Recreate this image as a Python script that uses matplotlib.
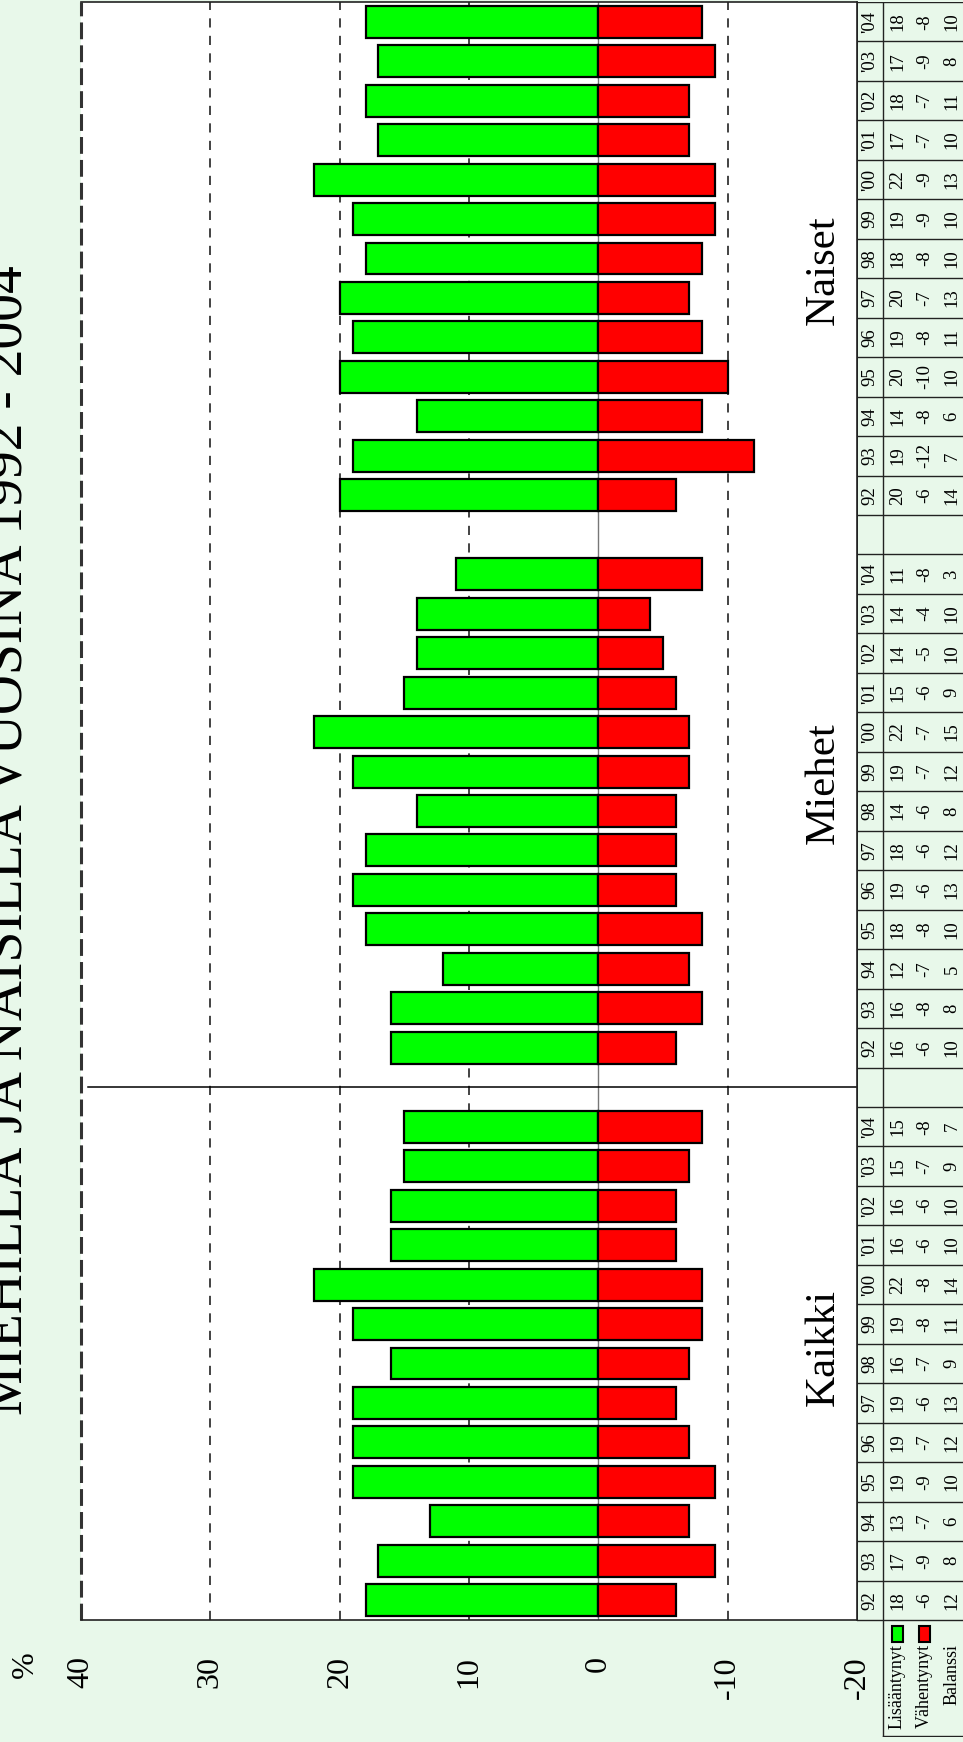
import matplotlib
matplotlib.use("Agg")
import matplotlib.pyplot as plt
from matplotlib.patches import Rectangle

plt.rcParams['font.family'] = ['Liberation Serif', 'DejaVu Serif']

# ---------------- data ----------------
years = ['92', '93', '94', '95', '96', '97', '98', '99', "'00", "'01", "'02", "'03", "'04"]
groups = ['Kaikki', 'Miehet', 'Naiset']

kaikki_up = [18, 17, 13, 19, 19, 19, 16, 19, 22, 16, 16, 15, 15]
kaikki_down = [-6, -9, -7, -9, -7, -6, -7, -8, -8, -6, -6, -7, -8]
kaikki_bal = [12, 8, 6, 10, 12, 13, 9, 11, 14, 10, 10, 9, 7]

miehet_up = [16, 16, 12, 18, 19, 18, 14, 19, 22, 15, 14, 14, 11]
miehet_down = [-6, -8, -7, -8, -6, -6, -6, -7, -7, -6, -5, -4, -8]
miehet_bal = [10, 8, 5, 10, 13, 12, 8, 12, 15, 9, 10, 10, 3]

naiset_up = [20, 19, 14, 20, 19, 20, 18, 19, 22, 17, 18, 17, 18]
naiset_down = [-6, -12, -8, -10, -8, -7, -8, -9, -9, -7, -7, -9, -8]
naiset_bal = [14, 7, 6, 10, 11, 13, 10, 10, 13, 10, 11, 8, 10]

value_ticks = [40, 30, 20, 10, 0, -10, -20]
row_labels = ['Lisääntynyt', 'Vähentynyt', 'Balanssi']
title = 'MIEHILLÄ JA NAISILLA VUOSINA 1992 - 2004'

ups = [kaikki_up, miehet_up, naiset_up]
downs = [kaikki_down, miehet_down, naiset_down]
bals = [kaikki_bal, miehet_bal, naiset_bal]

# ---------------- layout ----------------
W, H = 963, 1742
BG = '#E8F8EA'
GREEN = '#00FF00'
RED = '#FF0000'

fig = plt.figure(figsize=(W / 100, H / 100), dpi=100, facecolor=BG)

def fr(x0, y0, x1, y1):
    # image pixel box (top-left origin) -> figure fraction rect
    return [x0 / W, 1 - y1 / H, (x1 - x0) / W, (y1 - y0) / H]

PL, PR, PT, PB = 81, 857, 2, 1620
n_slots = len(groups) * len(years) + len(groups) - 1
px_per_slot = (PB - PT) / n_slots

ax = fig.add_axes(fr(PL, PT, PR, PB))
ax.set_facecolor('white')
ax.set_xlim(40, -20)
ax.set_ylim(-0.5, n_slots - 0.5)

slots = []
for g in range(len(groups)):
    base = g * (len(years) + 1)
    slots.append([base + i for i in range(len(years))])

for g in range(len(groups)):
    ax.barh(slots[g], ups[g], height=0.81, color=GREEN, edgecolor='black',
            linewidth=1.6, zorder=3)
    ax.barh(slots[g], downs[g], height=0.81, color=RED, edgecolor='black',
            linewidth=1.6, zorder=3)

for v in [30, 20, 10, -10]:
    ax.axvline(v, color='#222222', lw=1.2, ls=(0, (5.5, 5)), zorder=1)
ax.axvline(40, color='#333333', lw=2.2, ls=(0, (5.5, 2)), zorder=1, clip_on=False)
ax.axvline(0, color='#777777', lw=1.0, zorder=2)

# separator between Kaikki and Miehet
sep = len(years)
ax.plot([39.45, -20], [sep, sep], color='black', lw=1.1, zorder=2)

for s in ['top', 'bottom', 'right']:
    ax.spines[s].set_color('#222222')
    ax.spines[s].set_linewidth(1.2)
ax.spines['left'].set_visible(False)

ax.set_yticks([])
ax.set_xticks(value_ticks)
ax.set_xticklabels([str(v) for v in value_ticks], fontsize=23, rotation=90)
ax.tick_params(axis='x', length=0, pad=26)

# group labels (placed beside each group, near the right of the plot)
label_offsets = [6.4, 6.7, 5.7]
for g, name in enumerate(groups):
    ax.text(-17.4, slots[g][0] + label_offsets[g], name, rotation=90,
            ha='center', va='center', fontsize=31, zorder=4)

# ---------------- table ----------------
TB = 1737
extra = (TB - PB) / px_per_slot
tab = fig.add_axes(fr(PR, PT, W, TB))
tab.set_xlim(0, W - PR)
tab.set_ylim(-0.5 - extra, n_slots - 0.5)
tab.set_facecolor(BG)
tab.axis('off')

col_year, col_cols = 13, [40.5, 68, 95]
line_kw = dict(color='#222222', lw=1.0)
for k in range(n_slots + 1):
    tab.plot([0, W - PR], [k - 0.5, k - 0.5], **line_kw)
tab.plot([0, 0], [-0.5, n_slots - 0.5], color='#222222', lw=1.4)
tab.plot([26, 26], [-0.5 - extra + 0.03, n_slots - 0.5], **line_kw)
tab.plot([26, W - PR], [-0.5 - extra + 0.03, -0.5 - extra + 0.03], **line_kw)
tab.plot([0, W - PR], [n_slots - 0.5, n_slots - 0.5], color='#222222', lw=1.4)

for g in range(len(groups)):
    for i, yr in enumerate(years):
        s = slots[g][i]
        tab.text(col_year, s, yr, rotation=90, ha='center', va='center', fontsize=13.5)
        for c, arr in zip(col_cols, [ups[g], downs[g], bals[g]]):
            tab.text(c, s, str(arr[i]), rotation=90, ha='center', va='center', fontsize=13.5)

# ---------------- overlay (pixel coords) ----------------
ov = fig.add_axes([0, 0, 1, 1], facecolor='none')
ov.set_xlim(0, W)
ov.set_ylim(H, 0)
ov.axis('off')

ov.text(22, 1415, title, rotation=90, rotation_mode='anchor', ha='left', va='baseline',
        fontsize=40, clip_on=False)
ov.text(25, 1665, '%', rotation=90, ha='center', va='center', fontsize=23)

# legend in the table
ov.add_patch(Rectangle((892, 1626), 11, 16, facecolor=GREEN, edgecolor='black', lw=1.5))
ov.add_patch(Rectangle((919, 1626), 11, 16, facecolor=RED, edgecolor='black', lw=1.5))
for xc, lab in zip([897, 924, 952], row_labels):
    ov.text(xc, 1644, lab, rotation=90, ha='center', va='top', fontsize=13)

fig.savefig('out.png', dpi=100, facecolor=BG)
